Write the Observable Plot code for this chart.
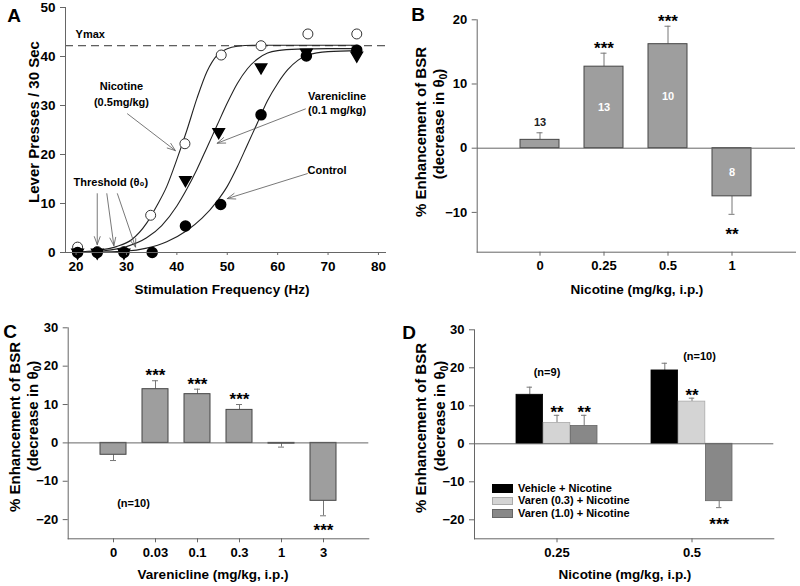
<!DOCTYPE html>
<html><head><meta charset="utf-8">
<script src="https://cdn.jsdelivr.net/npm/d3@7"></script>
<script src="https://cdn.jsdelivr.net/npm/@observablehq/plot@0.6"></script>
<style>
body{margin:0;background:#fff;}
#fig{position:relative;width:800px;height:586px;overflow:hidden;font-family:'Liberation Sans',Arial,sans-serif;font-weight:bold;color:#000;background:#fff;}
.panel{position:absolute;}
.ylab{position:absolute;white-space:nowrap;font-size:15px;line-height:1;transform:translate(-50%,-50%) rotate(-90deg);}
.xlab{position:absolute;white-space:nowrap;font-size:13.5px;line-height:1;transform:translate(-50%,-50%);}
.letter{position:absolute;font-size:19px;line-height:1;transform:translate(-50%,-50%);}
.leg{position:absolute;font-size:11px;line-height:1;white-space:nowrap;}
.sw{position:absolute;width:21px;height:8.4px;box-sizing:border-box;}
sub{font-size:70%;vertical-align:-0.25em;}
</style></head><body><div id="fig"></div>
<script>
// ---------- Panel A data ----------
const freqNic = [20.3, 24.2, 29.5, 34.8, 41.6, 48.8, 56.7, 66.0, 75.7];
const pressNic = [1.1, 0.2, 0.2, 7.6, 22.2, 40.3, 42.2, 44.6, 44.6];
const freqVar = [20.3, 24.2, 29.5, 41.7, 48.3, 56.7, 65.7, 75.7];
const pressVar = [0, 0, 0, 14.8, 24.6, 37.8, 40.8, 40.2];
const freqCtl = [20.3, 24.2, 29.5, 35.1, 41.7, 48.7, 56.7, 65.7, 75.7];
const pressCtl = [0, 0, 0, 0, 5.4, 9.8, 28.1, 40.1, 41.3];
// fitted curves
const fitNicF = [20, 24, 28, 31, 34, 36, 38, 40, 42, 44, 46, 48, 50, 52, 55, 60, 70, 76];
const fitNicY = [0.1, 0.4, 1.2, 2.6, 6, 9.5, 13.5, 19, 25, 31.5, 37, 40.3, 41.6, 42.1, 42.3, 42.3, 42.3, 42.3];
const fitVarF = [20, 25, 30, 34, 37, 40, 42, 44, 46, 48, 50, 52, 54, 56, 58, 60, 64, 70, 76];
const fitVarY = [0, 0.3, 1.2, 3, 5.5, 9.5, 13, 17, 21.5, 26, 30.5, 34.5, 37.5, 39.5, 40.7, 41.2, 41.5, 41.6, 41.6];
const fitCtlF = [20, 30, 34, 38, 42, 45, 48, 50, 52, 54, 56, 58, 60, 62, 64, 66, 70, 76];
const fitCtlY = [0, 0.3, 0.9, 2.2, 4.5, 7, 10.5, 13.5, 17.5, 22, 26.5, 31, 34.5, 37.3, 39.2, 40.3, 41, 41.2];
const ymax = 42.2;
const xTicksA = [20, 30, 40, 50, 60, 70, 80];
const yTicksA = [0, 10, 20, 30, 40, 50];
const arrowsA = [
  {x1: 30.2, y1: 28.3, x2: 39.7, y2: 20.8},
  {x1: 65.5, y1: 29.3, x2: 48.0, y2: 22.3},
  {x1: 65.9, y1: 16.1, x2: 50.0, y2: 11.0},
  {x1: 24.2, y1: 12.0, x2: 24.2, y2: 1.6},
  {x1: 26.1, y1: 12.0, x2: 27.5, y2: 1.4},
  {x1: 28.2, y1: 12.0, x2: 31.8, y2: 1.1}
];
const ymaxNote = [{x: 19.9, y: 44.5, text: "Ymax"}];
const notesA = [
  {x: 29.0, y: 33.9, text: "Nicotine"},
  {x: 29.0, y: 30.6, text: "(0.5mg/kg)"},
  {x: 71.8, y: 31.9, text: "Varenicline"},
  {x: 71.8, y: 29.0, text: "(0.1 mg/kg)"},
  {x: 69.8, y: 16.7, text: "Control"},
  {x: 26.9, y: 14.3, text: "Threshold (θ₀)"}
];

// ---------- Panel B data ----------
const nicDoses = ["0", "0.25", "0.5", "1"];
const nicMean = [1.3, 12.7, 16.2, -7.5];
const nicSem = [1.1, 2.1, 2.8, 2.8];
const nicN = [13, 13, 10, 8];
const nicSig = ["", "***", "***", "**"];
const yTicksB = [-10, 0, 10, 20];

// ---------- Panel C data ----------
const varDoses = ["0", "0.03", "0.1", "0.3", "1", "3"];
const varMean = [-3.1, 14.0, 12.7, 8.6, -0.2, -15.1];
const varSem = [1.5, 2.2, 1.3, 1.4, 0.9, 3.9];
const varSig = ["", "***", "***", "***", "", "***"];
const yTicksCD = [-20, -10, 0, 10, 20, 30];

// ---------- Panel D data ----------
const comboDoses = ["0.25", "0.5"];
const comboGroups = ["Vehicle + Nicotine", "Varen (0.3) + Nicotine", "Varen (1.0) + Nicotine"];
const comboMean025 = [12.9, 5.5, 4.7];
const comboSem025 = [2.0, 2.0, 2.8];
const comboMean05 = [19.3, 11.1, -15.1];
const comboSem05 = [1.9, 0.9, 1.7];
const comboSig025 = ["", "**", "**"];
const comboSig05 = ["", "**", "***"];
const comboN = ["(n=9)", "(n=10)"];
const comboNY = [18.9, 23.1];

// ---------- helpers ----------
const FONT = "'Liberation Sans', Arial, sans-serif";
const AX = "#666";
const style = {fontFamily: FONT, fontSize: "13px", fontWeight: "bold", color: "#000", background: "transparent", overflow: "visible"};
const fig = document.getElementById("fig");
function place(svg, left, top) {
  const d = document.createElement("div");
  d.className = "panel"; d.style.left = left + "px"; d.style.top = top + "px";
  d.appendChild(svg); fig.appendChild(d);
}
function addHTML(cls, html, left, top) {
  const d = document.createElement("div");
  d.className = cls; d.innerHTML = html;
  d.style.left = left + "px"; d.style.top = top + "px";
  fig.appendChild(d);
}
const triDown = {draw(ctx, size) {
  const s = Math.sqrt(size * 4 / Math.sqrt(3)); const h = s * Math.sqrt(3) / 2;
  ctx.moveTo(-s / 2, -h / 3); ctx.lineTo(s / 2, -h / 3); ctx.lineTo(0, 2 * h / 3); ctx.closePath();
}};
const sgn = v => (v < 0 ? -1 : 1);
const errEnd = d => d.mean + sgn(d.mean) * d.sem;

// ---------- Panel A ----------
const ptsNic = freqNic.map((f, i) => ({f, y: pressNic[i]}));
const ptsVar = freqVar.map((f, i) => ({f, y: pressVar[i]}));
const ptsCtl = freqCtl.map((f, i) => ({f, y: pressCtl[i]}));
const curves = [
  ...fitNicF.map((f, i) => ({f, y: fitNicY[i], s: "nic"})),
  ...fitVarF.map((f, i) => ({f, y: fitVarY[i], s: "var"})),
  ...fitCtlF.map((f, i) => ({f, y: fitCtlY[i], s: "ctl"}))
];
const plotA = Plot.plot({
  width: 400, height: 300, marginLeft: 65, marginRight: 15, marginTop: 7, marginBottom: 48,
  style,
  x: {domain: [17.9, 81.4]},
  y: {domain: [0, 50]},
  marks: [
    Plot.ruleY([ymax], {stroke: "#333", strokeDasharray: "8,5", strokeWidth: 1}),
    Plot.line(curves, {x: "f", y: "y", z: "s", curve: "monotone-x", stroke: "#222", strokeWidth: 1.1}),
    Plot.arrow(arrowsA, {x1: "x1", y1: "y1", x2: "x2", y2: "y2", stroke: "#555", strokeWidth: 0.8, headLength: 16, headAngle: 40}),
    Plot.dot(ptsNic, {x: "f", y: "y", r: 5, fill: "#fff", stroke: "#333", strokeWidth: 1}),
    Plot.dot(ptsCtl, {x: "f", y: "y", r: 5, fill: "#000", stroke: "#000"}),
    Plot.dot(ptsVar, {x: "f", y: "y", r: 4.2, symbol: triDown, fill: "#000", stroke: "#000"}),
    Plot.text(ymaxNote, {x: "x", y: "y", text: "text", textAnchor: "start", fontSize: 11, fill: "#000"}),
    Plot.text(notesA, {x: "x", y: "y", text: "text", textAnchor: "middle", fontSize: 11, fill: "#000"}),
    Plot.frame({anchor: "left", stroke: AX}),
    Plot.frame({anchor: "bottom", stroke: AX}),
    Plot.axisY({ticks: yTicksA, tickSize: 5, tickPadding: 5, stroke: AX, fill: "#000", label: null, fontSize: 13.5}),
    Plot.axisX({ticks: xTicksA, tickSize: 3, tickPadding: 6, stroke: AX, fill: "#000", label: null, fontSize: 13.5})
  ]
});
place(plotA, 0, 0);

// ---------- Panel B ----------
const dataB = nicDoses.map((d, i) => ({dose: d, mean: nicMean[i], sem: nicSem[i], n: nicN[i], sig: nicSig[i]}));
const plotB = Plot.plot({
  width: 400, height: 300, marginLeft: 76.7, marginRight: 5, marginTop: 19.3, marginBottom: 48.3,
  style,
  x: {type: "band", domain: nicDoses, paddingInner: 0.39, paddingOuter: 0.68},
  y: {domain: [-16.2, 20]},
  marks: [
    Plot.ruleX(dataB, {x: "dose", y1: "mean", y2: errEnd, stroke: "#777"}),
    Plot.tickY(dataB, {x: "dose", y: errEnd, stroke: "#777", insetLeft: 16.5, insetRight: 16.5}),
    Plot.barY(dataB, {x: "dose", y: "mean", fill: "#9e9e9e", stroke: "#444", strokeWidth: 1}),
    Plot.ruleY([0], {stroke: AX}),
    Plot.text(dataB.filter(d => d.sig && d.mean > 0), {x: "dose", y: errEnd, text: "sig", dy: -5, fontSize: 17}),
    Plot.text(dataB.filter(d => d.sig && d.mean < 0), {x: "dose", y: errEnd, text: "sig", dy: 20, fontSize: 17}),
    Plot.text(dataB.filter(d => Math.abs(d.mean) < 5), {x: "dose", y: errEnd, text: "n", dy: -10, fontSize: 11, fill: "#222"}),
    Plot.text(dataB.filter(d => Math.abs(d.mean) >= 5), {x: "dose", y: d => d.mean / 2, text: "n", fontSize: 11, fill: "#fff"}),
    Plot.frame({anchor: "left", stroke: AX}),
    Plot.frame({anchor: "bottom", stroke: AX}),
    Plot.axisY({ticks: yTicksB, tickSize: 5, tickPadding: 5, stroke: AX, fill: "#000", label: null}),
    Plot.axisX({tickSize: 4, tickPadding: 5, stroke: AX, fill: "#000", label: null})
  ]
});
place(plotB, 400, 0);

// ---------- Panel C ----------
const dataC = varDoses.map((d, i) => ({dose: d, mean: varMean[i], sem: varSem[i], sig: varSig[i]}));
const plotC = Plot.plot({
  width: 400, height: 296, marginLeft: 67.7, marginRight: 31.7, marginTop: 37.3, marginBottom: 47.7,
  style,
  x: {type: "band", domain: varDoses, paddingInner: 0.39, paddingOuter: 0.73},
  y: {domain: [-25, 30]},
  marks: [
    Plot.ruleX(dataC, {x: "dose", y1: "mean", y2: errEnd, stroke: "#777"}),
    Plot.tickY(dataC, {x: "dose", y: errEnd, stroke: "#777", insetLeft: 10, insetRight: 10}),
    Plot.barY(dataC, {x: "dose", y: "mean", fill: "#9e9e9e", stroke: "#444", strokeWidth: 1}),
    Plot.ruleY([0], {stroke: AX}),
    Plot.text(dataC.filter(d => d.sig && d.mean > 0), {x: "dose", y: errEnd, text: "sig", dy: -5, fontSize: 17}),
    Plot.text(dataC.filter(d => d.sig && d.mean < 0), {x: "dose", y: errEnd, text: "sig", dy: 15, fontSize: 17}),
    Plot.text(["(n=10)"], {x: () => "0", y: () => -15.7, text: d => d, dx: 20, fontSize: 11}),
    Plot.frame({anchor: "left", stroke: AX}),
    Plot.frame({anchor: "bottom", stroke: AX}),
    Plot.axisY({ticks: yTicksCD, tickSize: 5, tickPadding: 5, stroke: AX, fill: "#000", label: null}),
    Plot.axisX({tickSize: 4, tickPadding: 5, stroke: AX, fill: "#000", label: null})
  ]
});
place(plotC, 0, 290);

// ---------- Panel D ----------
const fillsD = ["#000", "#d4d4d4", "#888"];
const strokesD = ["#000", "#aaa", "#666"];
const dataD = [];
comboDoses.forEach((dose, j) => comboGroups.forEach((g, i) => dataD.push({
  dose, group: g, gi: i,
  mean: j === 0 ? comboMean025[i] : comboMean05[i],
  sem: j === 0 ? comboSem025[i] : comboSem05[i],
  sig: j === 0 ? comboSig025[i] : comboSig05[i]
})));
const subW = 27.2;
const marksD = [];
comboGroups.forEach((g, i) => {
  const sub = dataD.filter(d => d.gi === i);
  const dx = (i - 1) * subW;
  marksD.push(
    Plot.ruleX(sub, {x: "dose", y1: "mean", y2: errEnd, stroke: "#777", dx}),
    Plot.tickY(sub, {x: "dose", y: errEnd, stroke: "#777", insetLeft: 37.8 + dx, insetRight: 37.8 - dx}),
    Plot.barY(sub, {x: "dose", y: "mean", fill: fillsD[i], stroke: strokesD[i], strokeWidth: 0.8, insetLeft: i * subW, insetRight: (2 - i) * subW}),
    Plot.text(sub.filter(d => d.sig && d.mean > 0), {x: "dose", y: errEnd, text: "sig", dx, dy: -3, fontSize: 17}),
    Plot.text(sub.filter(d => d.sig && d.mean < 0), {x: "dose", y: errEnd, text: "sig", dx, dy: 17, fontSize: 17})
  );
});
const nNotes = comboDoses.map((d, j) => ({dose: d, y: comboNY[j], t: comboN[j]}));
const plotD = Plot.plot({
  width: 400, height: 296, marginLeft: 74, marginRight: 26.7, marginTop: 39.3, marginBottom: 47.7,
  style,
  x: {type: "band", domain: comboDoses, paddingInner: 0.4, paddingOuter: 0.307},
  y: {domain: [-25, 30]},
  marks: [
    ...marksD,
    Plot.ruleY([0], {stroke: AX}),
    Plot.text(nNotes.slice(0, 1), {x: "dose", y: "y", text: "t", dx: -10, fontSize: 11}),
    Plot.text(nNotes.slice(1), {x: "dose", y: "y", text: "t", dx: 7.5, fontSize: 11}),
    Plot.frame({anchor: "left", stroke: AX}),
    Plot.frame({anchor: "bottom", stroke: AX}),
    Plot.axisY({ticks: yTicksCD, tickSize: 5, tickPadding: 5, stroke: AX, fill: "#000", label: null}),
    Plot.axisX({tickSize: 4, tickPadding: 5, stroke: AX, fill: "#000", label: null})
  ]
});
place(plotD, 400, 290);

// legend for D
comboGroups.forEach((g, i) => {
  const top = 484.3 + i * 12.5;
  const sw = document.createElement("div");
  sw.className = "sw"; sw.style.left = "492px"; sw.style.top = top + "px";
  sw.style.background = fillsD[i]; sw.style.border = "0.8px solid " + strokesD[i];
  fig.appendChild(sw);
  addHTML("leg", g, 518, top - 1.5);
});

// ---------- titles ----------
addHTML("letter", "A", 14, 15);
addHTML("letter", "B", 418, 14);
addHTML("letter", "C", 10, 331);
addHTML("letter", "D", 409, 332);
addHTML("ylab", "Lever Presses / 30 Sec", 33, 122);
addHTML("ylab", "% Enhancement of BSR", 420, 132);
addHTML("ylab", "(decrease in θ<sub>0</sub>)", 440, 124);
addHTML("ylab", "% Enhancement of BSR", 14, 427);
addHTML("ylab", "(decrease in θ<sub>0</sub>)", 34, 416);
addHTML("ylab", "% Enhancement of BSR", 420, 428);
addHTML("ylab", "(decrease in θ<sub>0</sub>)", 441, 416);
addHTML("xlab", "Stimulation Frequency (Hz)", 222, 290);
addHTML("xlab", "Nicotine (mg/kg, i.p.)", 637, 290);
addHTML("xlab", "Varenicline (mg/kg, i.p.)", 213, 575);
addHTML("xlab", "Nicotine (mg/kg, i.p.)", 625, 575);
</script></body></html>
